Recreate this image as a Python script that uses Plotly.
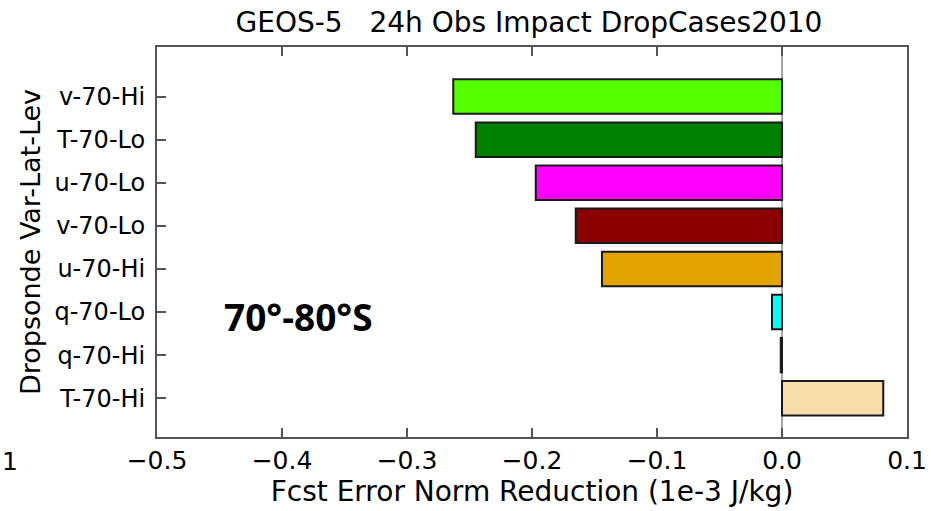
import plotly.graph_objects as go

categories = ["T-70-Hi", "q-70-Hi", "q-70-Lo", "u-70-Hi", "v-70-Lo", "u-70-Lo", "T-70-Lo", "v-70-Hi"]
values = [0.081, -0.001, -0.008, -0.144, -0.165, -0.197, -0.245, -0.263]
colors = ["#F7DDA8", "#7F7F7F", "#00FFFF", "#E3A300", "#8B0000", "#FF00FF", "#008000", "#55FF00"]
x_ticks = [-0.5, -0.4, -0.3, -0.2, -0.1, 0.0, 0.1]
x_ticklabels = ["\u22120.5", "\u22120.4", "\u22120.3", "\u22120.2", "\u22120.1", "0.0", "0.1"]

font = "DejaVu Sans, sans-serif"

fig = go.Figure()
fig.add_trace(go.Bar(
    x=values, y=categories, orientation="h",
    marker=dict(color=colors, line=dict(color="#1a1a1a", width=2)),
    width=0.8,
))
fig.add_shape(type="line", xref="x", yref="paper", x0=0, x1=0, y0=0, y1=1,
              line=dict(color="#888888", width=1.5), layer="below")

fig.update_layout(
    width=931, height=511,
    margin=dict(l=157, r=24, t=47, b=74, autoexpand=False),
    paper_bgcolor="white", plot_bgcolor="white",
    showlegend=False,
    title=dict(text="GEOS-5   24h Obs Impact DropCases2010", x=(529 - 157) / 750, xanchor="center",
               y=1 - 22 / 511, yanchor="middle",
               font=dict(family=font, size=28, color="black"), xref="paper"),
    font=dict(family=font, color="black"),
)
fig.update_xaxes(
    range=[-0.5, 0.1], tickvals=x_ticks, ticktext=x_ticklabels,
    ticks="inside", ticklen=9, tickcolor="#555555", tickwidth=1.5,
    mirror="ticks", showline=True, linecolor="#555555", linewidth=2,
    showgrid=False, zeroline=False,
    tickfont=dict(family=font, size=25, color="black"),
    title=dict(text="Fcst Error Norm Reduction (1e-3 J/kg)", font=dict(family=font, size=28, color="black"), standoff=3),
)
fig.update_yaxes(
    type="category", range=[-0.9, 8.15],
    ticks="inside", ticklen=9, tickcolor="#555555", tickwidth=1.5,
    mirror=True, showline=True, linecolor="#555555", linewidth=2,
    showgrid=False, zeroline=False, ticklabelstandoff=5,
    tickfont=dict(family=font, size=24, color="black"),
    title=dict(text="Dropsonde Var-Lat-Lev", font=dict(family=font, size=27, color="black"), standoff=6),
)
fig.add_annotation(text="<b>70\u00b0-80\u00b0S</b>", xref="paper", yref="paper",
                   x=(222 - 157) / 750, y=(437 - 316) / 390, xanchor="left", yanchor="middle",
                   showarrow=False, font=dict(family="Open Sans, Liberation Sans, sans-serif", size=37, color="black"))
fig.add_annotation(text="1", xref="paper", yref="paper",
                   x=(0 - 157) / 750, y=(437 - 461) / 390, xanchor="left", yanchor="middle",
                   showarrow=False, font=dict(family=font, size=25, color="black"))

fig.write_html("out.html")
